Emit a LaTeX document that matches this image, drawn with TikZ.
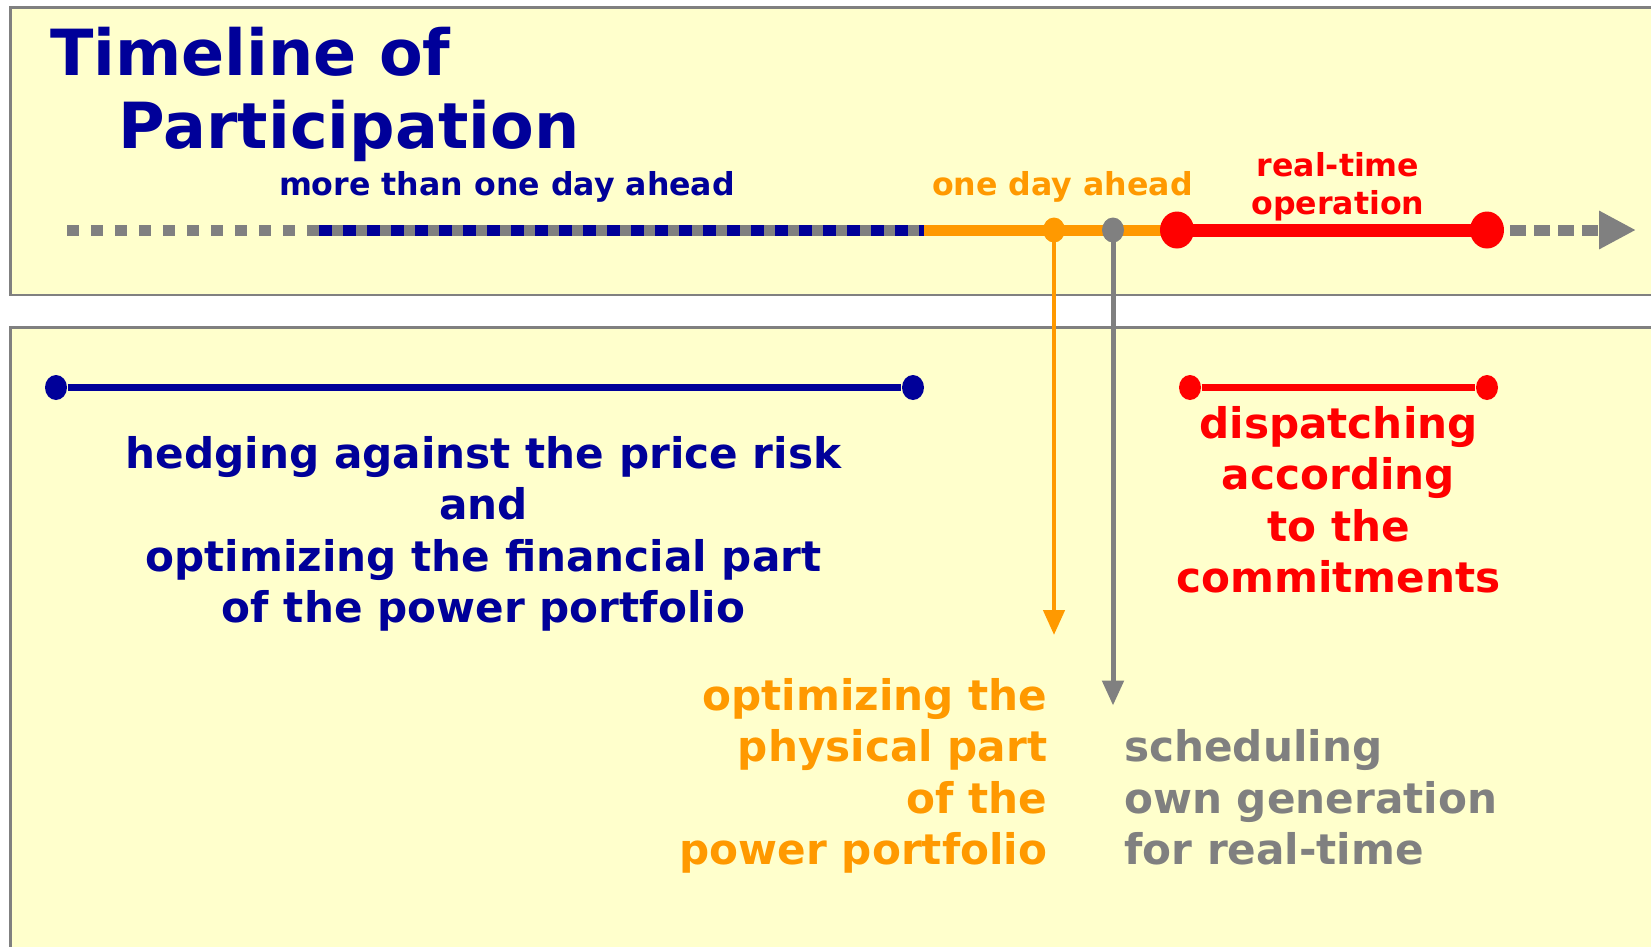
\documentclass[tikz,border=0pt]{standalone}
\usepackage{fontspec}
\setmainfont{DejaVu Sans}
\usetikzlibrary{positioning,shapes.geometric,arrows.meta,backgrounds}
\definecolor{navyblue}{RGB}{0,0,153}
\definecolor{dayorange}{RGB}{255,153,0}
\definecolor{realred}{RGB}{255,0,0}
\definecolor{axisgray}{RGB}{128,128,128}
\definecolor{paleyellow}{RGB}{255,255,204}

\begin{document}
\begin{tikzpicture}[
    panel/.style={draw=axisgray, fill=paleyellow, line width=0.8pt},
    titletext/.style={inner sep=0pt, anchor=base west, text=navyblue, font=\bfseries\fontsize{18.1pt}{20pt}\selectfont},
    tagtext/.style={inner sep=0pt, anchor=base, font=\bfseries\fontsize{9pt}{10.8pt}\selectfont},
    bodytext/.style={inner sep=0pt, anchor=base, font=\bfseries\fontsize{12pt}{14.65pt}\selectfont},
    dot/.style={ellipse, inner sep=0pt, minimum width=0.22cm, minimum height=0.25cm},
    bigdot/.style={ellipse, inner sep=0pt, fill=realred, minimum width=0.34cm, minimum height=0.37cm},
    track/.style={line width=0.11cm},
    drop/.style={-{Triangle[length=0.25cm, width=0.21cm]}}
]
\useasboundingbox (0,0) rectangle (16.51,-9.46);

% Title
\node[titletext] (title1) at (0.495,-0.755) {Timeline of};
\node[titletext] (title2) at (1.18,-1.485) {Participation};

% Timeline points
\node[dot, fill=dayorange] (dayDot) at (10.54,-2.30) {};
\node[dot, fill=axisgray] (schedDot) at (11.13,-2.30) {};
\node[bigdot] (rtStart) at (11.77,-2.30) {};
\node[bigdot] (rtEnd) at (14.87,-2.30) {};
\coordinate (tlStart) at (0.67,-2.30);
\coordinate (blueStart) at (3.19,-2.30);
\coordinate (dayStart) at (9.24,-2.30);
\coordinate (tlEnd) at (16.36,-2.30);
\coordinate (dayTip) at (10.54,-6.35);
\coordinate (schedTip) at (11.13,-7.055);

% Timeline labels (multi-line nodes sit on their last baseline)
\node[tagtext, text=navyblue] (moreLbl) at (5.07,-1.95) {more than one day ahead};
\node[tagtext, text=dayorange] (dayLbl) at (10.625,-1.95) {one day ahead};
\node[tagtext, text=realred, align=center] (rtLbl) at (13.38,-2.145) {real-time\\operation};

% Bars of the lower panel
\node[dot, fill=navyblue] (hedgeL) at (0.56,-3.875) {};
\node[dot, fill=navyblue] (hedgeR) at (9.13,-3.875) {};
\node[dot, fill=realred] (dispL) at (11.90,-3.875) {};
\node[dot, fill=realred] (dispR) at (14.87,-3.875) {};

% Tasks
\node[bodytext, text=navyblue, align=center] (hedgeTxt) at (4.835,-6.225) {hedging against the price risk\\and\\optimizing the financial part\\of the power portfolio};
\node[bodytext, text=realred, align=center] (dispTxt) at (13.385,-5.925) {dispatching\\according\\to the\\commitments};
\node[bodytext, text=dayorange, align=right, anchor=base east] (physTxt) at (10.48,-8.645) {optimizing the\\physical part\\of the\\power portfolio};
\node[bodytext, text=axisgray, align=left, anchor=base west] (schedTxt) at (11.235,-8.645) {scheduling\\own generation\\for real-time};

\begin{scope}[on background layer]
% Panels
\draw[panel] (0.105,-0.074) rectangle (16.8,-2.95);
\draw[panel] (0.105,-3.275) rectangle (16.8,-9.8);
% Timeline
\draw[track, axisgray, dash pattern=on 0.12cm off 0.12cm] (tlStart) -- (blueStart);
\draw[track, axisgray] (blueStart) -- (dayStart);
\draw[track, navyblue, dash pattern=on 0.13cm off 0.11cm] (blueStart) -- (dayStart);
\draw[track, dayorange] (dayStart) -- (rtStart.center);
\draw[realred, line width=0.13cm] (rtStart.center) -- (rtEnd.center);
\draw[track, axisgray, dash pattern=on 0.16cm off 0.08cm, dash phase=0.01cm, -{Triangle[length=0.37cm, width=0.36cm]}] (rtEnd.center) -- (tlEnd);
% Drops to the tasks
\draw[drop, dayorange, line width=0.045cm] (dayDot.center) -- (dayTip);
\draw[drop, axisgray, line width=0.05cm] (schedDot.center) -- (schedTip);
% Bars
\draw[navyblue, line width=0.075cm] (hedgeL) -- (hedgeR);
\draw[realred, line width=0.075cm] (dispL) -- (dispR);
\end{scope}
\end{tikzpicture}
\end{document}
